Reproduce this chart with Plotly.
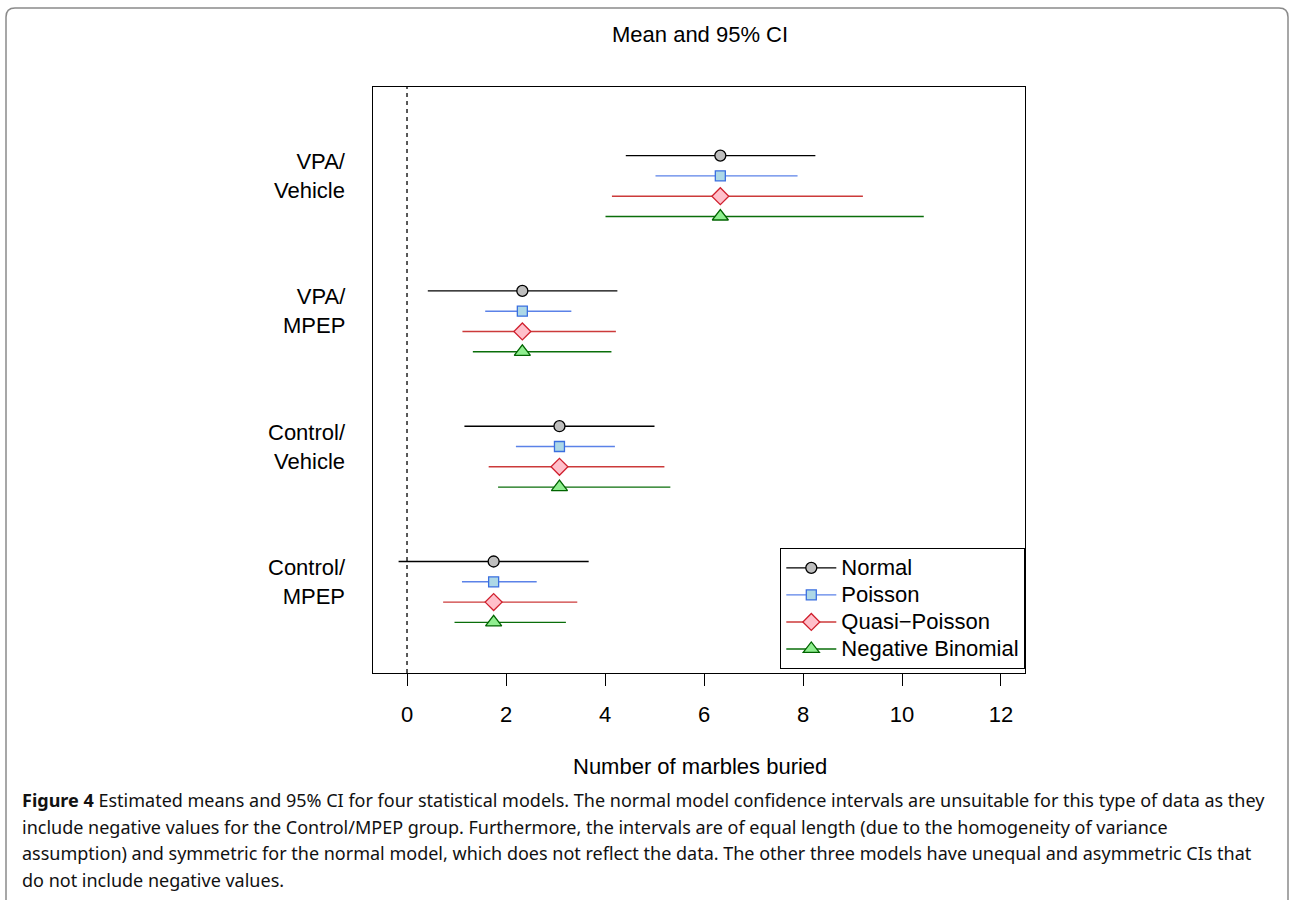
import plotly.graph_objects as go

# ---------------- data ----------------
groups = ["Control/<br>MPEP", "Control/<br>Vehicle", "VPA/<br>MPEP", "VPA/<br>Vehicle"]
group_pos = [1, 2, 3, 4]
models = ["Normal", "Poisson", "Quasi\u2212Poisson", "Negative Binomial"]
model_offsets = [0.225, 0.075, -0.075, -0.225]

means = [1.75, 3.08, 2.33, 6.33]
normal_lo = [-0.17, 1.16, 0.42, 4.42]
normal_hi = [3.67, 5.00, 4.25, 8.25]
poisson_lo = [1.11, 2.20, 1.58, 5.02]
poisson_hi = [2.62, 4.20, 3.32, 7.89]
quasi_lo = [0.73, 1.65, 1.12, 4.14]
quasi_hi = [3.44, 5.20, 4.22, 9.21]
negbin_lo = [0.96, 1.84, 1.33, 4.01]
negbin_hi = [3.21, 5.32, 4.13, 10.44]

x_ticks = [0, 2, 4, 6, 8, 10, 12]

caption_lines = [
    "<b>Figure 4</b> Estimated means and 95% CI for four statistical models. The normal model confidence intervals are unsuitable for this type of data as they",
    "include negative values for the Control/MPEP group. Furthermore, the intervals are of equal length (due to the homogeneity of variance",
    "assumption) and symmetric for the normal model, which does not reflect the data. The other three models have unequal and asymmetric CIs that",
    "do not include negative values.",
]

# ---------------- styles ----------------
W, H = 1289, 900
ML, MR, MT, MB = 373, 1289 - 1025, 87, 900 - 673
PW, PH = W - ML - MR, H - MT - MB
FONT = "Liberation Sans, Arial, sans-serif"


def px(x):
    return (x - ML) / PW


def py(y):
    return (H - MB - y) / PH


line_colors = ["#000000", "#5b82e8", "#cc3a3a", "#0a6e0a"]
fill_colors = ["#bebebe", "#add8e6", "#ffc0cb", "#90ee90"]
edge_colors = ["#000000", "#3a6fe0", "#d0202e", "#006400"]
symbols = ["circle", "square", "diamond", "triangle-up"]
sizes = [11, 10, 13, 14]

los = [normal_lo, poisson_lo, quasi_lo, negbin_lo]
his = [normal_hi, poisson_hi, quasi_hi, negbin_hi]

fig = go.Figure()

for i, name in enumerate(models):
    ys = [g + model_offsets[i] for g in group_pos]
    fig.add_trace(go.Scatter(
        x=means, y=ys, mode="markers", showlegend=False,
        marker=dict(symbol=symbols[i], size=sizes[i], color=fill_colors[i],
                    line=dict(color=edge_colors[i], width=1.3)),
        error_x=dict(type="data", symmetric=False,
                     array=[h - m for h, m in zip(his[i], means)],
                     arrayminus=[m - l for m, l in zip(means, los[i])],
                     width=0, thickness=1.4, color=line_colors[i]),
    ))

for i, name in enumerate(models):
    fig.add_trace(go.Scatter(
        x=[None], y=[None], mode="lines+markers",
        name=f'<span style="font-size:22px">{name}</span>',
        line=dict(color=line_colors[i], width=1.4),
        marker=dict(symbol=symbols[i], size=sizes[i], color=fill_colors[i],
                    line=dict(color=edge_colors[i], width=1.3)),
    ))

annotations = []
for g, lab in zip(group_pos, groups):
    annotations.append(dict(x=px(348), y=g + 0.075, xref="paper", yref="y",
                            text=lab, showarrow=False, xanchor="right", yanchor="middle",
                            align="right",
                            font=dict(family=FONT, size=22, color="black")))

annotations.append(dict(x=px(700), y=py(34), xref="paper", yref="paper", text="Mean and 95% CI",
                        showarrow=False, xanchor="center", yanchor="middle",
                        font=dict(family=FONT, size=22, color="black")))
annotations.append(dict(x=px(700), y=py(766), xref="paper", yref="paper", text="Number of marbles buried",
                        showarrow=False, xanchor="center", yanchor="middle",
                        font=dict(family=FONT, size=22, color="black")))

cap_y = [800, 827, 853, 880]
for t, yy in zip(caption_lines, cap_y):
    annotations.append(dict(x=px(20), y=py(yy), xref="paper", yref="paper", text=t,
                            showarrow=False, xanchor="left", yanchor="middle", align="left",
                            font=dict(family="Noto Sans, sans-serif", size=18, color="#111111")))

shapes = [
    dict(type="line", xref="x", yref="paper", x0=0, x1=0, y0=0, y1=1,
         line=dict(color="black", width=1.3, dash="4px,4px")),
    dict(type="path", xref="paper", yref="paper",
         path=(f"M {px(6)},{py(920)} L {px(6)},{py(17)} Q {px(6)},{py(8)} {px(15)},{py(8)} "
               f"L {px(1279)},{py(8)} Q {px(1288)},{py(8)} {px(1288)},{py(17)} L {px(1288)},{py(920)}"),
         line=dict(color="#8a8a8a", width=1.5)),
]

fig.update_layout(
    width=W, height=H,
    margin=dict(l=ML, r=MR, t=MT, b=MB),
    paper_bgcolor="white", plot_bgcolor="white",
    showlegend=True,
    legend=dict(x=1, y=py(669), xanchor="right", yanchor="bottom",
                bgcolor="white", bordercolor="black", borderwidth=1.3,
                font=dict(family=FONT, size=18.5, color="black"),
                itemwidth=50, tracegroupgap=0),
    annotations=annotations,
    shapes=shapes,
    xaxis=dict(range=[-0.687, 12.485], tickvals=x_ticks, ticks="outside", ticklen=12,
               tickwidth=1.2, tickcolor="black", showgrid=False, zeroline=False,
               showline=True, mirror=True, linecolor="black", linewidth=1.3,
               tickfont=dict(family=FONT, size=22, color="black"),
               ticklabelstandoff=9),
    yaxis=dict(range=[0.401, 4.732], showticklabels=False, ticks="", showgrid=False,
               zeroline=False, showline=True, mirror=True, linecolor="black", linewidth=1.3),
)

fig.write_html("out.html", config={"displayModeBar": False},
               post_script="document.body.style.margin='0';")
